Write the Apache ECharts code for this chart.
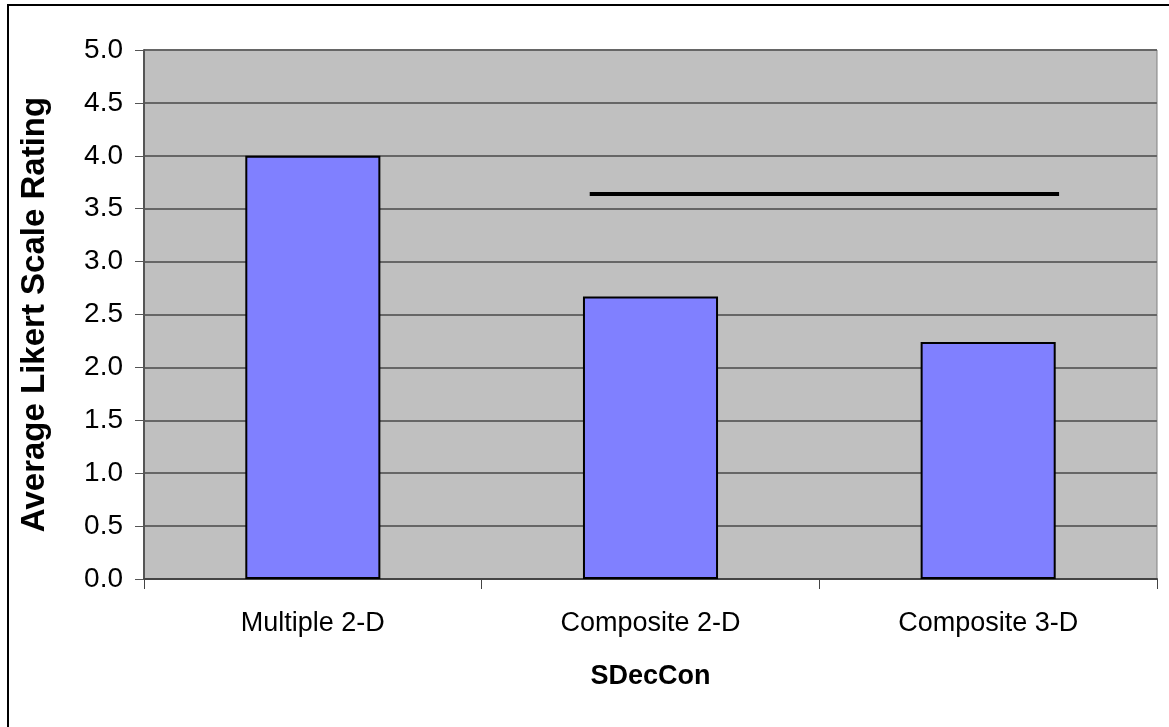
<!DOCTYPE html>
<html>
<head>
<meta charset="utf-8">
<script src="https://cdn.jsdelivr.net/npm/echarts@6/dist/echarts.min.js"></script>
<style>
  html, body { margin: 0; padding: 0; background: #ffffff; }
  #chart { width: 1169px; height: 727px; }
</style>
</head>
<body>
<div id="chart"></div>
<script>
// Bar categories and their average ratings
const categories = ['Multiple 2-D', 'Composite 2-D', 'Composite 3-D'];
const ratings = [4.0, 2.67, 2.24];

// Reference line drawn across the two composite bars
const refLineValue = 3.64;
const refLineSpan = [1.32, 2.71]; // in category-band units (0..3)

const yTicks = { min: 0, max: 5, interval: 0.5 };

const chart = echarts.init(document.getElementById('chart'), null, { renderer: 'canvas' });

const font = 'Liberation Sans, Arial, sans-serif';

chart.setOption({
  animation: false,
  backgroundColor: '#ffffff',
  graphic: [{
    type: 'rect',
    shape: { x: 8, y: 5, width: 1200, height: 800 },
    style: { fill: 'none', stroke: '#000000', lineWidth: 2 },
    silent: true,
    z: 100
  }],
  grid: {
    left: 144, right: 12, top: 50, bottom: 148,
    show: true,
    backgroundColor: '#c0c0c0',
    borderColor: '#808080',
    borderWidth: 1
  },
  xAxis: [{
    type: 'category',
    data: categories,
    boundaryGap: true,
    name: 'SDecCon',
    nameLocation: 'middle',
    nameGap: 84,
    nameTextStyle: { fontFamily: font, fontSize: 27, fontWeight: 'bold', color: '#000' },
    axisLine: { lineStyle: { color: '#444444', width: 2 } },
    axisTick: { show: true, length: 10, lineStyle: { color: '#444444', width: 1 } },
    axisLabel: { fontFamily: font, fontSize: 27, color: '#000', margin: 31 },
    splitLine: { show: false }
  }, {
    type: 'value',
    min: 0, max: 3,
    show: false
  }],
  yAxis: {
    type: 'value',
    min: yTicks.min, max: yTicks.max, interval: yTicks.interval,
    name: 'Average Likert Scale Rating',
    nameLocation: 'middle',
    nameGap: 93,
    nameRotate: 90,
    nameTextStyle: { fontFamily: font, fontSize: 33, fontWeight: 'bold', color: '#000' },
    axisLine: { show: true, lineStyle: { color: '#555555', width: 2 } },
    axisTick: { show: true, length: 9, lineStyle: { color: '#555555', width: 1 } },
    axisLabel: {
      fontFamily: font, fontSize: 28, color: '#000', margin: 21,
      formatter: v => v.toFixed(1)
    },
    splitLine: { show: true, lineStyle: { color: '#666666', width: 2 } }
  },
  series: [{
    type: 'bar',
    xAxisIndex: 0,
    data: ratings,
    barWidth: '40%',
    itemStyle: { color: '#8080ff', borderColor: '#000000', borderWidth: 2 },
    z: 3
  }, {
    type: 'line',
    xAxisIndex: 1,
    data: [[refLineSpan[0], refLineValue], [refLineSpan[1], refLineValue]],
    showSymbol: false,
    symbol: 'none',
    lineStyle: { color: '#000000', width: 4 },
    z: 4
  }]
});
</script>
</body>
</html>
